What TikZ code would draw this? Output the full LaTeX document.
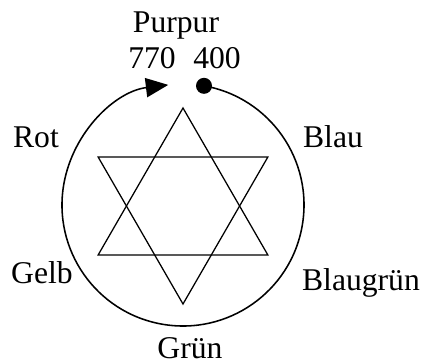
\documentclass[tikz,border=0pt]{standalone}
\usepackage{fontspec}
\setmainfont{Liberation Serif}
\usetikzlibrary{arrows.meta}

\tikzset{
  colour/.style={anchor=base, inner sep=0pt},
  ring/.style={line width=1.1pt},
  star/.style={line width=0.9pt, line join=miter}
}

\begin{document}
\begin{tikzpicture}[x=0.025cm, y=0.025cm, font=\fontsize{22.5}{26}\selectfont]
  \useasboundingbox (-183,-158) rectangle (239,205);
  % the colour circle, open at the top: it starts at 400 and runs round to 770
  \coordinate (start) at (80:121);
  \coordinate (tip) at (97:121);
  \fill (start) circle (8);
  \draw[ring, -{Triangle[length=0.56cm, width=0.48cm]}] (start) arc[start angle=80, end angle=-263, radius=121];
  % the star of the two triangles
  \begin{scope}[shift={(0,-1)}]
    \draw[star] (90:98) coordinate (up1) -- (210:98) coordinate (up2) -- (330:98) coordinate (up3) -- cycle;
    \draw[star] (270:98) coordinate (dn1) -- (30:98) coordinate (dn2) -- (150:98) coordinate (dn3) -- cycle;
  \end{scope}
  % the labels round the circle
  \node[colour] (purpur) at (-7,173) {Purpur};
  \node[colour] (rotend) at (-31,137) {770};
  \node[colour] (blauend) at (34,137) {400};
  \node[colour] (rot) at (-147,58) {Rot};
  \node[colour] (blau) at (150,58) {Blau};
  \node[colour] (gelb) at (-141,-78) {Gelb};
  \node[colour] (blaugruen) at (178,-85) {Blaugrün};
  \node[colour] (gruen) at (7,-153) {Grün};
\end{tikzpicture}
\end{document}
